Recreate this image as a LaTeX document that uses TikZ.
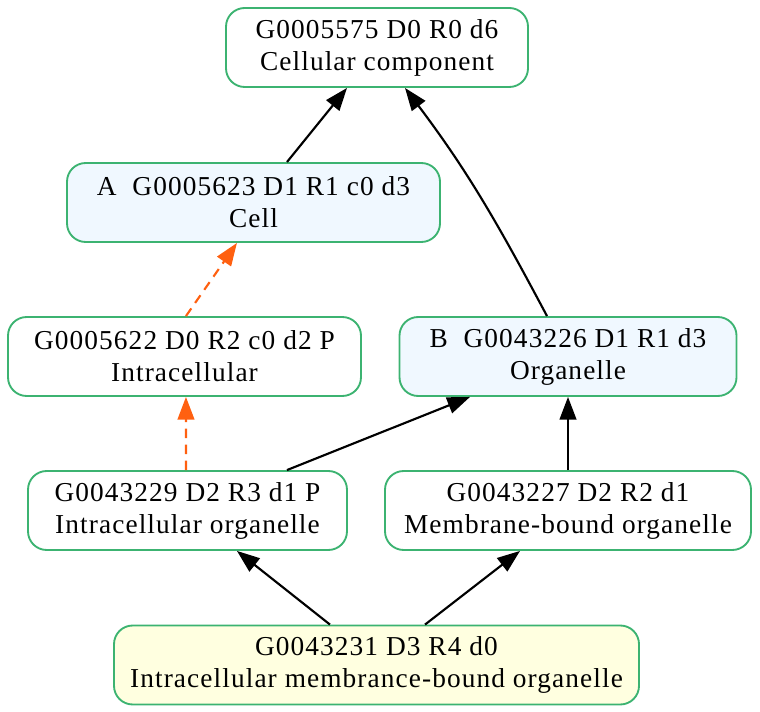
\documentclass[tikz,border=0pt]{standalone}
\usepackage{fontspec}
\setmainfont[LetterSpace=4]{Liberation Serif}
\usepackage{xcolor}
\usetikzlibrary{arrows.meta,positioning}
\definecolor{termline}{HTML}{3CB371}
\definecolor{termblue}{HTML}{F0F8FF}
\definecolor{termyellow}{HTML}{FFFFE0}
\definecolor{partof}{HTML}{FF6010}

\begin{document}
\begin{tikzpicture}[x=0.75pt,y=-0.75pt,line width=1.6pt,>={Triangle[length=17pt,width=12.5pt]}]
  \tikzstyle{term}=[draw=termline, line width=1.4pt, fill=white, rounded corners=14pt, minimum height=59.25pt, align=center, inner sep=0pt, font=\fontsize{20.5}{24}\selectfont]
  \tikzstyle{isa}=[->, black]
  \tikzstyle{part}=[->, partof, dash pattern=on 7pt off 5pt]

  \useasboundingbox (0,0) rectangle (760,712);

  \node[term, minimum width=226.5pt]                  (cc)   at (377, 47.5)   {G0005575 D0 R0 d6\\Cellular component};
  \node[term, minimum width=279.75pt, fill=termblue]   (cell) at (253.5, 202.5) {A\ \ G0005623 D1 R1 c0 d3\\Cell};
  \node[term, minimum width=264.75pt]                 (ic)   at (184.5, 356.5) {G0005622 D0 R2 c0 d2 P\\Intracellular};
  \node[term, minimum width=252.75pt, fill=termblue]   (org)  at (568, 356.5)   {B\ \ G0043226 D1 R1 d3\\Organelle};
  \node[term, minimum width=274.5pt]                  (mbo)  at (568, 510.5)   {G0043227 D2 R2 d1\\Membrane-bound organelle};
  \node[term, minimum width=239.25pt]                 (ico)  at (187.5, 510.5) {G0043229 D2 R3 d1 P\\Intracellular organelle};
  \node[term, minimum width=393.75pt, fill=termyellow] (imbo) at (376.5, 665)   {G0043231 D3 R4 d0\\Intracellular membrance-bound organelle};

  \draw[isa]  ([xshift=25.1pt]cell.north) -- ([xshift=-22.5pt]cc.south);
  \draw[isa]  ([xshift=-15.75pt]org.north) to[out=118, in=-53] ([xshift=21pt]cc.south);
  \draw[part] ([xshift=1.1pt]ic.north) -- ([xshift=-12.4pt]cell.south);
  \draw[part] ([xshift=-1.1pt]ico.north) -- ([xshift=1.1pt]ic.south);
  \draw[isa]  ([xshift=74.6pt]ico.north) -- ([xshift=-73.5pt]org.south);
  \draw[isa]  (mbo.north) -- (org.south);
  \draw[isa]  ([xshift=-34.9pt]imbo.north) -- ([xshift=37.1pt]ico.south);
  \draw[isa]  ([xshift=36.4pt]imbo.north) -- ([xshift=-36pt]mbo.south);
\end{tikzpicture}
\end{document}
